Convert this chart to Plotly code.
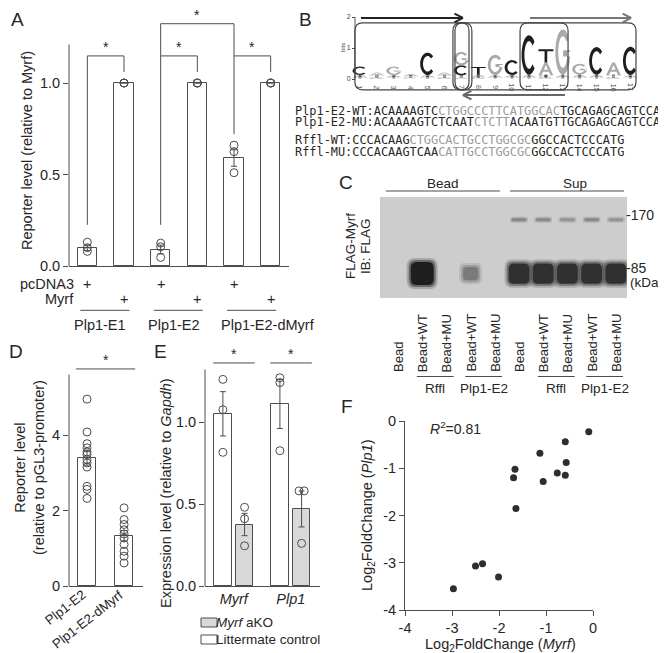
import numpy as np
import plotly.graph_objects as go

W, H = 666, 653
def X(px): return px / W
def Y(py): return 1 - py / H

INK = '#262626'
LINE = '#4d4d4d'
FONT = 'Liberation Sans'
MONO = 'DejaVu Sans Mono'
EDGE_PAD = 7  # compensation for the padding plotly leaves around annotation text

# ---------------- data ----------------
# Panel A
a_groups = ['Plp1-E1', 'Plp1-E2', 'Plp1-E2-dMyrf']
a_pcdna3 = ['+', '', '+', '', '+', '']
a_myrf = ['', '+', '', '+', '', '+']
a_mean = [0.10, 1.00, 0.09, 1.00, 0.59, 1.00]
a_sem = [0.015, None, 0.024, None, 0.045, None]
a_pts = [[0.13, 0.10, 0.08], [1.0, 1.0, 1.0], [0.125, 0.105, 0.047],
         [1.0, 1.0, 1.0], [0.66, 0.625, 0.51], [1.0, 1.0, 1.0]]
a_tickvals = [0.0, 0.5, 1.0]
a_ticktext = ['0.0', '0.5', '1.0']

# Panel B (sequence logo, bits per position)
logo_stacks = [
    [('T', 0.06), ('A', 0.07), ('C', 0.27)],
    [('G', 0.06), ('T', 0.06), ('A', 0.09)],
    [('T', 0.06), ('A', 0.07), ('G', 0.27)],
    [('C', 0.05), ('T', 0.05), ('A', 0.06)],
    [('T', 0.06), ('A', 0.07), ('C', 0.72)],
    [('G', 0.06), ('T', 0.06), ('A', 0.09)],
    [('A', 0.06), ('T', 0.06), ('C', 0.32), ('G', 0.43)],
    [('G', 0.06), ('A', 0.08), ('T', 0.25)],
    [('T', 0.06), ('A', 0.07), ('G', 0.65)],
    [('T', 0.06), ('A', 0.07), ('C', 0.48)],
    [('T', 0.06), ('A', 0.08), ('C', 1.27)],
    [('G', 0.06), ('C', 0.06), ('A', 0.41), ('T', 0.43)],
    [('T', 0.06), ('A', 0.08), ('G', 1.46)],
    [('T', 0.06), ('A', 0.08), ('G', 0.35)],
    [('T', 0.06), ('A', 0.08), ('C', 0.89)],
    [('G', 0.06), ('T', 0.06), ('A', 0.41)],
    [('T', 0.06), ('A', 0.07), ('C', 0.91)],
]
b_seqs = [
    ('Plp1-E2-WT:', [('ACAAAAGTC', 0), ('CTGGCCCTTCATGGCAC', 1), ('TGCAGAGCAGTCCA', 0)]),
    ('Plp1-E2-MU:', [('ACAAAAGTCTCAAT', 0), ('CTCTT', 1), ('ACAATGTTGCAGAGCAGTCCA', 0)]),
    ('Rffl-WT:', [('CCCACAAG', 0), ('CTGGCACTGCCTGGCGC', 1), ('GGCCACTCCCATG', 0)]),
    ('Rffl-MU:', [('CCCACAAGTCAA', 0), ('CATTGCCTGGCGC', 1), ('GGCCACTCCCATG', 0)]),
]

# Panel C (western blot)
c_lanes = ['Bead', 'Bead+WT', 'Bead+MU', 'Bead+WT', 'Bead+MU',
           'Bead', 'Bead+WT', 'Bead+MU', 'Bead+WT', 'Bead+MU']
c_groups = [('Rffl', 2, 3), ('Plp1-E2', 4, 5), ('Rffl', 7, 8), ('Plp1-E2', 9, 10)]
c_band_main = [0.0, 1.0, 0.0, 0.45, 0.0, 0.85, 0.85, 0.85, 0.85, 0.85]
c_band_high = [0.0, 0.0, 0.0, 0.0, 0.0, 0.40, 0.38, 0.33, 0.40, 0.33]
c_band_kda = [79, 160]
c_marker_kda = [170, 85]

# Panel D
d_names = ['Plp1-E2', 'Plp1-E2-dMyrf']
d_pts = [[4.95, 4.08, 3.77, 3.66, 3.55, 3.48, 3.35, 3.26, 3.15, 2.64, 2.56, 2.32],
         [2.07, 1.76, 1.63, 1.49, 1.38, 1.27, 1.10, 0.92, 0.79, 0.61]]
d_mean = [3.40, 1.33]
d_sem = [0.20, 0.14]

# Panel E
e_genes = ['Myrf', 'Plp1']
e_ctrl_mean = [1.05, 1.11]
e_ctrl_sem = [0.135, 0.15]
e_ctrl_pts = [[1.26, 1.075, 0.815], [1.27, 1.24, 0.825]]
e_ko_mean = [0.375, 0.47]
e_ko_sem = [0.068, 0.11]
e_ko_pts = [[0.48, 0.41, 0.245], [0.58, 0.58, 0.26]]

# Panel F
f_myrf = [-0.09, -0.59, -1.13, -0.57, -1.66, -1.69, -0.76, -0.59, -1.06, -1.64, -2.50, -2.35, -2.01, -2.97]
f_plp1 = [-0.23, -0.44, -0.68, -0.88, -1.02, -1.20, -1.10, -1.15, -1.28, -1.85, -3.07, -3.02, -3.30, -3.55]
f_ticks = [-4, -3, -2, -1, 0]

# ---------------- helpers ----------------
shapes, anns = [], []

def add_ann(text, x, y, xref='paper', yref='paper', size=14.5, color=INK,
            xanchor='center', yanchor='middle', angle=0, family=FONT, xshift=None, yshift=0):
    if xshift is None:
        xshift = -EDGE_PAD if xanchor == 'left' else (EDGE_PAD if xanchor == 'right' else 0)
    anns.append(dict(text=text, x=x, y=y, xref=xref, yref=yref, showarrow=False,
                     font=dict(size=size, color=color, family=family),
                     xanchor=xanchor, yanchor=yanchor, textangle=angle, borderpad=0,
                     xshift=xshift, yshift=yshift))

def add_line(x0, y0, x1, y1, xref='paper', yref='paper', color=LINE, width=1):
    shapes.append(dict(type='line', x0=x0, y0=y0, x1=x1, y1=y1, xref=xref, yref=yref,
                       line=dict(color=color, width=width)))

def rrect_path(x0, y0, x1, y1, rx, ry):
    return (f"M {x0+rx:.4f},{y0:.4f} L {x1-rx:.4f},{y0:.4f} Q {x1:.4f},{y0:.4f} {x1:.4f},{y0+ry:.4f} "
            f"L {x1:.4f},{y1-ry:.4f} Q {x1:.4f},{y1:.4f} {x1-rx:.4f},{y1:.4f} "
            f"L {x0+rx:.4f},{y1:.4f} Q {x0:.4f},{y1:.4f} {x0:.4f},{y1-ry:.4f} "
            f"L {x0:.4f},{y0+ry:.4f} Q {x0:.4f},{y0:.4f} {x0+rx:.4f},{y0:.4f} Z")

def base_axis(**kw):
    d = dict(showgrid=False, zeroline=False, showline=False, ticks='', showticklabels=False,
             fixedrange=True, automargin=False, linecolor=LINE, linewidth=1, tickcolor=LINE,
             tickwidth=1, ticklen=5, tickfont=dict(size=14.5, color=INK, family=FONT))
    d.update(kw)
    return d

fig = go.Figure()
open_marker = dict(symbol='circle-open', size=8, color=LINE, line=dict(width=1))

# ================= Panel A =================
a_x = list(range(len(a_mean)))
fig.add_trace(go.Bar(x=a_x, y=a_mean, width=0.52, xaxis='x', yaxis='y',
                     marker=dict(color='white', line=dict(color=LINE, width=1)),
                     error_y=dict(type='data', array=a_sem, color=LINE, thickness=1, width=3),
                     showlegend=False, hoverinfo='skip'))
ax_, ay_ = [], []
for i, pts in enumerate(a_pts):
    ax_ += [i] * len(pts)
    ay_ += pts
fig.add_trace(go.Scatter(x=ax_, y=ay_, mode='markers', xaxis='x', yaxis='y',
                         marker=open_marker, cliponaxis=False, showlegend=False))
add_line(X(61), 0, X(61), 1.21, xref='paper', yref='y')
for xl, xr, yt, yl, yr in [(0, 1, 1.148, 0.225, 1.06), (2, 3, 1.148, 0.225, 1.06),
                           (4, 5, 1.148, 0.72, 1.06), (2, 4, 1.324, 1.148, 1.148)]:
    add_line(xl, yl, xl, yt, 'x', 'y')
    add_line(xl, yt, xr, yt, 'x', 'y')
    add_line(xr, yt, xr, yr, 'x', 'y')
    add_ann('*', (xl + xr) / 2, yt, 'x', 'y', size=14, yanchor='bottom')
add_ann('pcDNA3', X(60), Y(275.7), xanchor='right')
add_ann('Myrf', X(60), Y(290.7), xanchor='right')
for i in a_x:
    if a_pcdna3[i]:
        add_ann(a_pcdna3[i], i, Y(275.7), 'x', 'paper')
    if a_myrf[i]:
        add_ann(a_myrf[i], i, Y(290.7), 'x', 'paper')
for g, name in enumerate(a_groups):
    add_line(2 * g - 0.19, Y(302.3), 2 * g + 1.15, Y(302.3), 'x', 'paper')
    add_ann(name, 2 * g - 0.19, Y(316.7), 'x', 'paper', xanchor='left')
add_ann('Reporter level (relative to Myrf)', X(19), Y(143), angle=-90)
add_ann('A', X(9), Y(12), size=19)

# ================= Panel B =================
def arc_pts(a0, a1, rx, ry, n=28):
    t = np.radians(np.linspace(a0, a1, n))
    return list(zip(0.5 + rx * np.cos(t), 0.5 + ry * np.sin(t)))

def glyph(letter):
    if letter == 'C':
        return [arc_pts(42, 318, 0.5, 0.5) + arc_pts(318, 42, 0.31, 0.35)]
    if letter == 'G':
        return [arc_pts(40, 360, 0.5, 0.5) + arc_pts(360, 40, 0.31, 0.35),
                [(0.52, 0.40), (1.0, 0.40), (1.0, 0.54), (0.52, 0.54)]]
    if letter == 'T':
        return [[(0, 1), (1, 1), (1, 0.85), (0.59, 0.85), (0.59, 0), (0.41, 0), (0.41, 0.85), (0, 0.85)]]
    return [[(0, 0), (0.41, 1), (0.59, 1), (1, 0), (0.81, 0), (0.70, 0.28), (0.30, 0.28), (0.19, 0)],
            [(0.36, 0.43), (0.64, 0.43), (0.5, 0.80)]]

for k, stack in enumerate(logo_stacks):
    pos = k + 1
    base = 0.0
    for letter, h in stack:
        col = '#b8b8b8' if h < 0.1 else ('#1e1e1e' if letter in 'CT' else '#a9a9a9')
        path = ''
        for poly in glyph(letter):
            pts = [(pos - 0.44 + 0.88 * u, base + h * v) for u, v in poly]
            path += 'M ' + ' L '.join(f'{x:.4f},{y:.4f}' for x, y in pts) + ' Z '
        shapes.append(dict(type='path', path=path, xref='x2', yref='y2', fillcolor=col,
                           line=dict(width=0), fillrule='evenodd'))
        base += h
    add_ann(str(pos), pos, -0.27, 'x2', 'y2', size=7, color='#555', angle=90)
fig.add_trace(go.Scatter(x=list(range(1, 18)), y=[0.09] * 17, mode='markers', xaxis='x2', yaxis='y2',
                         marker=dict(symbol='square', size=3, color='#222'), showlegend=False))
add_line(X(347), 0, X(347), 2, 'paper', 'y2', color='#555')
add_ann('bits', X(335), 1.0, 'paper', 'y2', size=6, angle=-90, color='#444')
for x0, x1 in [(0.70, 7.45), (6.50, 7.62), (10.47, 13.31), (6.62, 17.33)]:
    shapes.append(dict(type='path', path=rrect_path(x0, -0.35, x1, 1.81, 0.45, 0.26),
                       xref='x2', yref='y2', line=dict(color='#444', width=1.2)))
for xs, xe, yy, col in [(1.06, 7.09, 1.97, '#222'), (11.06, 17.04, 1.97, '#777'), (13.13, 7.09, -0.52, '#666')]:
    add_line(xs, yy, xe, yy, 'x2', 'y2', color=col, width=2)
    d = 0.5 if xe > xs else -0.5
    add_line(xe - d, yy + 0.14, xe, yy, 'x2', 'y2', color=col, width=2)
    add_line(xe - d, yy - 0.14, xe, yy, 'x2', 'y2', color=col, width=2)
seq_rows = [103, 114, 132.5, 143.5]
for (label, parts), py in zip(b_seqs, seq_rows):
    txt = label + ''.join(s if g == 0 else f'<span style="color:#9a9a9a">{s}</span>' for s, g in parts)
    add_ann(txt, X(293), Y(py), xanchor='left', size=11.9, family=MONO)
add_ann('B', X(297), Y(12), size=19)

# ================= Panel C =================
lanes = list(range(1, len(c_lanes) + 1))
fig.add_trace(go.Scatter(x=lanes, y=[np.log10(c_band_kda[0])] * len(lanes), mode='markers',
                         xaxis='x3', yaxis='y3', marker=dict(size=1, opacity=0), showlegend=False,
                         hoverinfo='skip'))
shapes.append(dict(type='rect', xref='x3 domain', yref='y3 domain', x0=0, x1=1, y0=0, y1=1,
                   fillcolor='#cdcdcd', line=dict(width=0), layer='below'))
PXD = 176.0  # pixels per decade of the blot y axis
for lane, v in zip(lanes, c_band_main):
    if v <= 0:
        continue
    g = int(205 - 175 * min(1.0, v * 1.05))
    col = f'rgb({g},{g},{g})'
    wl = 0.35 + 0.6 * v
    hp = 5 + 18 * v
    yc = np.log10(c_band_kda[0])
    for grow, op in [(4, 0.22), (2, 0.45), (0, 1.0)]:
        hw = wl / 2 + grow / 24.2
        hh = (hp / 2 + grow) / PXD
        shapes.append(dict(type='path', path=rrect_path(lane - hw, yc - hh, lane + hw, yc + hh,
                                                        hw * 0.5, hh * 0.55),
                           xref='x3', yref='y3', fillcolor=col, opacity=op, line=dict(width=0)))
for lane, v in zip(lanes, c_band_high):
    if v <= 0:
        continue
    g = int(205 - 175 * v)
    yc = np.log10(c_band_kda[1])
    for grow, op in [(1.5, 0.4), (0, 1.0)]:
        hw = 0.3 + grow / 24.2
        hh = (1.5 + grow) / PXD
        shapes.append(dict(type='path', path=rrect_path(lane - hw, yc - hh, lane + hw, yc + hh,
                                                        hw * 0.3, hh * 0.5),
                           xref='x3', yref='y3', fillcolor=f'rgb({g},{g},{g})', opacity=op,
                           line=dict(width=0)))
for kda in c_marker_kda:
    add_ann('-' + str(kda), X(624), np.log10(kda), 'paper', 'y3', xanchor='left', size=14)
add_ann('(kDa)', X(628), Y(274), xanchor='left', size=13.5)
add_ann('Bead', 2.86, Y(175), 'x3', 'paper', size=13.5)
add_ann('Sup', 8.31, Y(175), 'x3', 'paper', size=13.5)
add_line(0.50, Y(183), 5.21, Y(183), 'x3', 'paper')
add_line(5.63, Y(183), 10.34, Y(183), 'x3', 'paper')
for lane, name in zip(lanes, c_lanes):
    add_ann(name, lane, Y(363), 'x3', 'paper', size=13, angle=-90, yanchor='bottom', yshift=-2)
for name, l0, l1 in c_groups:
    add_line(l0 - 0.22, Y(368.5), l1 + 0.3, Y(368.5), 'x3', 'paper')
    add_ann(name, (l0 + l1) / 2 + 0.04, Y(380.5), 'x3', 'paper', size=13.5)
add_ann('FLAG-Myrf', X(342), Y(238), size=13.5, angle=-90)
add_ann('IB: FLAG', X(357), Y(238), size=13.5, angle=-90)
add_ann('C', X(338), Y(174), size=19)

# ================= Panel D =================
d_x = list(range(len(d_names)))
fig.add_trace(go.Bar(x=d_x, y=d_mean, width=0.49, xaxis='x4', yaxis='y4',
                     marker=dict(color='white', line=dict(color=LINE, width=1)),
                     error_y=dict(type='data', array=d_sem, color=LINE, thickness=1, width=3),
                     showlegend=False, hoverinfo='skip'))
dx_, dy_ = [], []
for i, pts in enumerate(d_pts):
    dx_ += [i] * len(pts)
    dy_ += pts
fig.add_trace(go.Scatter(x=dx_, y=dy_, mode='markers', xaxis='x4', yaxis='y4',
                         marker=open_marker, cliponaxis=False, showlegend=False))
add_line(X(61), 0, X(61), 5.6, 'paper', 'y4')
add_line(-0.3, 5.75, 1.3, 5.75, 'x4', 'y4')
add_ann('*', 0.5, 5.75, 'x4', 'y4', size=14, yanchor='bottom')
for i, name in zip(d_x, d_names):
    add_ann(name, i + 0.16, Y(583), 'x4', 'paper', size=13.3, angle=-38,
            xanchor='right', yanchor='top', xshift=-3, yshift=5)
add_ann('Reporter level<br>(relative to pGL3-promoter)', X(21), Y(460), angle=-90)
add_ann('D', X(8), Y(343), size=19)

# ================= Panel E =================
e_x = list(range(len(e_genes)))
off = 0.19
fig.add_trace(go.Bar(x=[g - off for g in e_x], y=e_ctrl_mean, width=0.31, xaxis='x5', yaxis='y5',
                     marker=dict(color='white', line=dict(color=LINE, width=1)),
                     error_y=dict(type='data', array=e_ctrl_sem, color=LINE, thickness=1, width=3),
                     showlegend=False, hoverinfo='skip'))
fig.add_trace(go.Bar(x=[g + off for g in e_x], y=e_ko_mean, width=0.31, xaxis='x5', yaxis='y5',
                     marker=dict(color='#d9d9d9', line=dict(color=LINE, width=1)),
                     error_y=dict(type='data', array=e_ko_sem, color=LINE, thickness=1, width=3),
                     showlegend=False, hoverinfo='skip'))
ex_, ey_ = [], []
for shift, groups in [(-off, e_ctrl_pts), (off, e_ko_pts)]:
    for g, pts in enumerate(groups):
        for j, v in enumerate(pts):
            dup = [k for k, w in enumerate(pts) if abs(w - v) < 0.01]
            dodge = 0 if len(dup) == 1 else (dup.index(j) - (len(dup) - 1) / 2) * 0.09
            ex_.append(g + shift + dodge)
            ey_.append(v)
fig.add_trace(go.Scatter(x=ex_, y=ey_, mode='markers', xaxis='x5', yaxis='y5',
                         marker=open_marker, cliponaxis=False, showlegend=False))
add_line(X(197), 0, X(197), 1.32, 'paper', 'y5')
for g in e_x:
    add_line(g - 0.36, 1.36, g + 0.37, 1.36, 'x5', 'y5')
    add_ann('*', g, 1.36, 'x5', 'y5', size=14, yanchor='bottom')
shapes.append(dict(type='rect', x0=X(193), x1=X(209), y0=Y(619), y1=Y(610), xref='paper', yref='paper',
                   fillcolor='#d9d9d9', line=dict(color=LINE, width=1)))
shapes.append(dict(type='rect', x0=X(193), x1=X(209), y0=Y(636), y1=Y(627), xref='paper', yref='paper',
                   fillcolor='white', line=dict(color=LINE, width=1)))
add_ann('<i>Myrf</i> aKO', X(214), Y(614.5), xanchor='left', size=13.5)
add_ann('Littermate control', X(214), Y(631.5), xanchor='left', size=13.5)
add_ann('Expression level (relative to <i>Gapdh</i>)', X(158), Y(485), angle=-90)
add_ann('E', X(152), Y(343), size=19)

# ================= Panel F =================
fig.add_trace(go.Scatter(x=f_myrf, y=f_plp1, mode='markers', xaxis='x6', yaxis='y6',
                         marker=dict(size=7, color='#2e2e2e'), cliponaxis=False, showlegend=False))
add_ann('<i>R</i><sup>2</sup>=0.81', X(428), Y(420), xanchor='left', size=14)
add_ann('Log<sub>2</sub>FoldChange (<i>Myrf</i>)', X(492), Y(637))
add_ann('Log<sub>2</sub>FoldChange (<i>Plp1</i>)', X(360), Y(507), angle=-90)
add_ann('F', X(339), Y(398), size=19)

# ---------------- layout ----------------
f_ticktext = [str(t) for t in f_ticks]
fig.update_layout(
    template='none',
    width=W, height=H, margin=dict(l=0, r=0, t=0, b=0, pad=0), autosize=False,
    paper_bgcolor='white', plot_bgcolor='rgba(0,0,0,0)', showlegend=False,
    font=dict(family=FONT, size=14.5, color=INK), bargap=0,
    shapes=shapes, annotations=anns,
    xaxis=base_axis(domain=[X(61), X(281)], range=[-0.5, 5.5], anchor='y', showline=True),
    yaxis=base_axis(domain=[Y(258), Y(3)], range=[0, (258 - 3) / 183], anchor='x',
                    ticks='outside', showticklabels=True, tickvals=a_tickvals, ticktext=a_ticktext),
    xaxis2=base_axis(domain=[X(338), X(640)], range=[1 + (338 - 352) / 16.9, 1 + (640 - 352) / 16.9],
                     anchor='y2', visible=False),
    yaxis2=base_axis(domain=[Y(95), Y(2)], range=[(71 - 95) / 31, (71 - 2) / 31], anchor='free',
                     position=X(347), ticks='outside', ticklen=3, showticklabels=True,
                     tickvals=[0, 1, 2], tickfont=dict(size=7, color='#444', family=FONT)),
    xaxis3=base_axis(domain=[X(372), X(619)], range=[1 + (372 - 390) / 24.2, 1 + (619 - 390) / 24.2],
                     anchor='y3', visible=False),
    yaxis3=base_axis(domain=[Y(290), Y(189)],
                     range=[np.log10(85) - 30 / PXD, np.log10(170) + 18 / PXD], anchor='x3', visible=False),
    xaxis4=base_axis(domain=[X(61), X(135)], range=[-0.486, 1.51], anchor='y4', showline=True),
    yaxis4=base_axis(domain=[Y(578), Y(340)], range=[0, (578 - 340) / 37.75], anchor='x4',
                     ticks='outside', showticklabels=True, tickvals=[0, 2, 4]),
    xaxis5=base_axis(domain=[X(197), X(312)], range=[-0.504, 1.513], anchor='y5', showline=True,
                     showticklabels=True, tickvals=e_x, ticktext=[f'<i>{g}</i>' for g in e_genes]),
    yaxis5=base_axis(domain=[Y(578), Y(340)], range=[0, (578 - 340) / 164], anchor='x5',
                     ticks='outside', showticklabels=True, tickvals=[0, 0.5, 1.0],
                     ticktext=['0.0', '0.5', '1.0']),
    xaxis6=base_axis(domain=[X(397), X(585)], range=[-4, 0], anchor='y6', showline=True,
                     ticks='outside', showticklabels=True, tickvals=f_ticks, ticktext=f_ticktext),
    yaxis6=base_axis(domain=[Y(602), Y(413)], range=[-4, 0], anchor='x6', showline=True,
                     ticks='outside', showticklabels=True, tickvals=f_ticks, ticktext=f_ticktext),
)
fig.write_html('out.html')
